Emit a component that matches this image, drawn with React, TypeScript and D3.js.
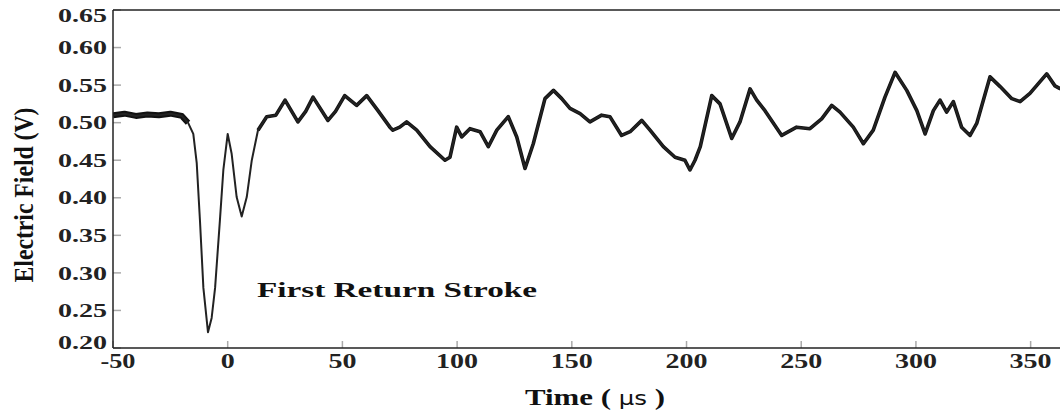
import React from "react";
import * as d3 from "d3";

const timeUs: number[] = [
  -50, -45, -40, -35, -30, -25, -20, -17.3, -15, -13.5, -12.1, -10.6, -8.6, -7, -5.5, -3.4, -1.9, 0,
  1.7, 3.9, 6.1, 8.3, 10.5, 13.2, 17, 21, 25, 30.6, 34, 37.2, 43.7, 47, 51, 56.2, 60.6, 65.5, 70.7,
  72, 75, 78, 82.4, 88.2, 94.7, 96.9, 99.8, 102, 105.6, 110, 113.6, 117.3, 122.3, 126, 129.6, 133.2,
  138.3, 142, 145.6, 149.2, 153.6, 157.9, 163, 166.6, 171.7, 175.4, 180.5, 184.1, 189.9, 195, 199.3,
  201.5, 203.7, 206, 211, 214.6, 219.7, 223.3, 227.7, 230.6, 234.2, 241.5, 248, 253.8, 258.9, 263.3,
  266.9, 272.7, 277.1, 281.4, 286.5, 290.9, 296, 300.4, 304, 307.6, 310.5, 313.4, 316.3, 319.9,
  323.6, 326.5, 332.3, 336.7, 341.8, 345.4, 349.7, 357, 360.6, 363,
];
const fieldV: number[] = [
  0.51, 0.512, 0.509, 0.511, 0.51, 0.512, 0.509, 0.5, 0.485, 0.446, 0.37, 0.28, 0.221, 0.24, 0.28, 0.37, 0.437, 0.485,
  0.459, 0.401, 0.375, 0.401, 0.45, 0.49, 0.508, 0.51, 0.53, 0.501, 0.515, 0.534, 0.503, 0.515, 0.536, 0.523, 0.536, 0.516, 0.494,
  0.49, 0.494, 0.501, 0.49, 0.468, 0.45, 0.454, 0.494, 0.481, 0.492, 0.488, 0.468, 0.49, 0.508, 0.481, 0.439, 0.472,
  0.532, 0.543, 0.532, 0.519, 0.512, 0.501, 0.51, 0.508, 0.483, 0.488, 0.503, 0.49, 0.468, 0.454, 0.45,
  0.437, 0.45, 0.468, 0.536, 0.525, 0.479, 0.501, 0.545, 0.53, 0.516, 0.483, 0.494, 0.492, 0.505, 0.523,
  0.514, 0.494, 0.472, 0.49, 0.534, 0.567, 0.543, 0.516, 0.485, 0.516, 0.53, 0.514, 0.528, 0.494,
  0.483, 0.499, 0.561, 0.548, 0.532, 0.528, 0.539, 0.565, 0.549, 0.545,
];

const xTicks: number[] = [-50, 0, 50, 100, 150, 200, 250, 300, 350];
const yTicks: number[] = [0.2, 0.25, 0.3, 0.35, 0.4, 0.45, 0.5, 0.55, 0.6, 0.65];

const xLabel = "Time ( ";
const xUnit = "μs";
const yLabel = "Electric Field (V)";
const annotation = "First Return Stroke";

const W = 1060;
const H = 413;
const left = 113;
const top = 10;
const bottom = 348;

export default function App() {
  const x = d3.scaleLinear().domain([-50, 362.8]).range([left, W]);
  const y = d3.scaleLinear().domain([0.2, 0.65]).range([bottom, top]);
  const pts: [number, number][] = timeUs.map((t, i) => [t, fieldV[i]]);
  const line = d3
    .line<[number, number]>()
    .x((d) => x(d[0]))
    .y((d) => y(d[1]));
  const pre = pts.filter((d) => d[0] <= -17);
  const post = pts.filter((d) => d[0] >= 13);
  const font = "'Liberation Serif', 'Times New Roman', serif";

  return (
    <svg
      width={W}
      height={H}
      style={{ position: "absolute", left: 0, top: 0, background: "#fff" }}
    >
      <defs>
        <clipPath id="plot">
          <rect x={left} y={top} width={W - left} height={bottom - top} />
        </clipPath>
      </defs>
      {/* ticks */}
      {xTicks.map((t) => (
        <line key={"xt" + t} x1={x(t)} x2={x(t)} y1={bottom} y2={bottom - 7} stroke="#aaa" strokeWidth={1.5} />
      ))}
      {yTicks.map((v) => (
        <line key={"yt" + v} x1={left} x2={left + 8} y1={y(v)} y2={y(v)} stroke="#aaa" strokeWidth={1.5} />
      ))}
      {/* data */}
      <g clipPath="url(#plot)">
        <path d={line(pre) || ""} fill="none" stroke="#111" strokeWidth={6} strokeLinejoin="round" />
        <path d={line(post) || ""} fill="none" stroke="#111" strokeWidth={3.6} strokeLinejoin="round" />
        <path d={line(pts) || ""} fill="none" stroke="#222" strokeWidth={2} strokeLinejoin="round" />
      </g>
      {/* frame */}
      <line x1={left} x2={W} y1={top} y2={top} stroke="#222" strokeWidth={1.5} />
      <line x1={left} x2={W} y1={bottom} y2={bottom} stroke="#222" strokeWidth={1.5} />
      <line x1={left} x2={left} y1={top} y2={bottom} stroke="#222" strokeWidth={1.5} />
      {/* tick labels */}
      {yTicks.map((v) => {
        const yy = Math.min(Math.max(y(v), 15), 342);
        return (
          <text
            key={"yl" + v}
            x={107}
            y={yy}
            dy="0.35em"
            textAnchor="end"
            fontFamily={font}
            fontWeight="bold"
            fontSize={19}
            textLength={49}
            lengthAdjust="spacingAndGlyphs"
            fill="#222"
          >
            {v.toFixed(2)}
          </text>
        );
      })}
      {xTicks.map((t) => {
        const s = String(t);
        const len = s.replace("-", "").length * 14 + (s.startsWith("-") ? 7 : 0);
        const cx = Math.max(x(t), 118);
        return (
          <text
            key={"xl" + t}
            x={cx}
            y={368}
            textAnchor="middle"
            fontFamily={font}
            fontWeight="bold"
            fontSize={20}
            textLength={len}
            lengthAdjust="spacingAndGlyphs"
            fill="#222"
          >
            {s}
          </text>
        );
      })}
      {/* axis titles */}
      <text
        x={525}
        y={405}
        fontFamily={font}
        fontWeight="bold"
        fontSize={24}
        textLength={140}
        lengthAdjust="spacingAndGlyphs"
        fill="#111"
      >
        {xLabel}
        <tspan fontWeight="normal" fontFamily="'DejaVu Sans', sans-serif" fontSize={19}>{xUnit}</tspan>
        {" )"}
      </text>
      <text
        transform="translate(33,195) rotate(-90)"
        textAnchor="middle"
        fontFamily={font}
        fontWeight="bold"
        fontSize={27}
        textLength={175}
        lengthAdjust="spacingAndGlyphs"
        fill="#111"
      >
        {yLabel}
      </text>
      <text
        x={257}
        y={297}
        fontFamily={font}
        fontWeight="bold"
        fontSize={22}
        textLength={280}
        lengthAdjust="spacingAndGlyphs"
        fill="#111"
      >
        {annotation}
      </text>
    </svg>
  );
}
